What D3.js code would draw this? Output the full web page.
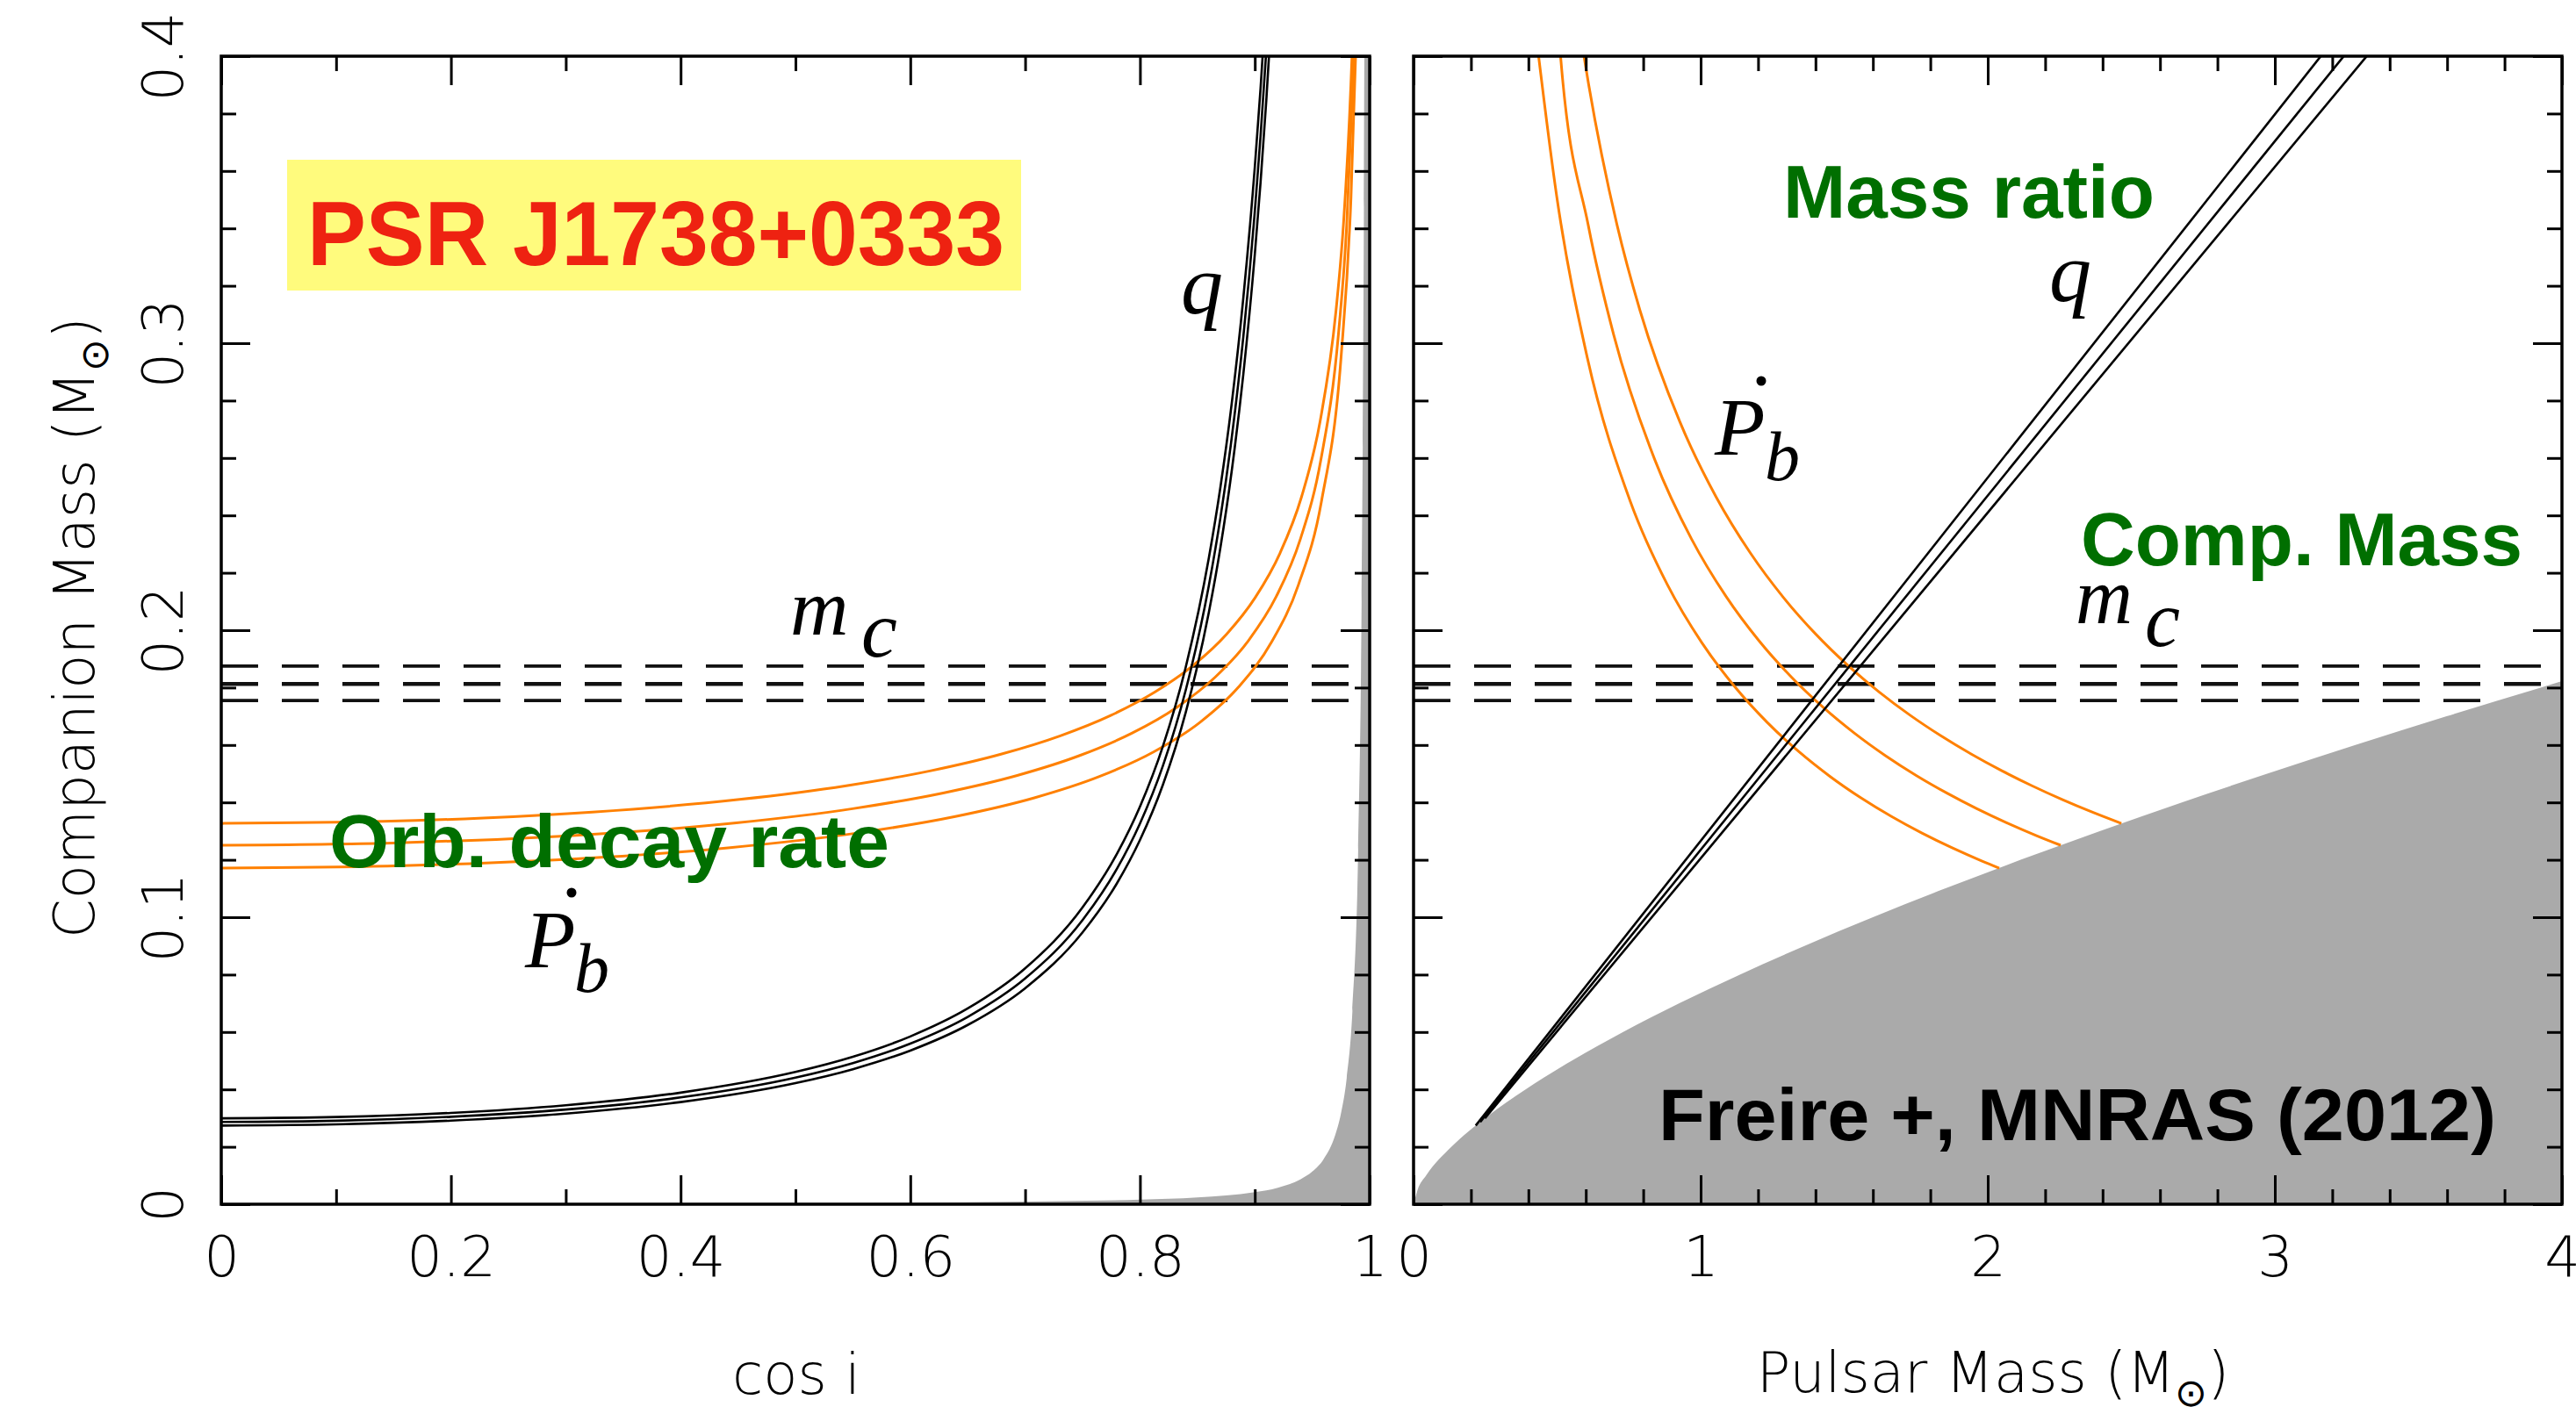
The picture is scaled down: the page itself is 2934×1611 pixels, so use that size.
<!DOCTYPE html>
<html><head><meta charset="utf-8">
<script src="https://cdn.jsdelivr.net/npm/d3@7"></script>
<style>html,body{margin:0;padding:0;background:#fff;} svg{display:block;background:#fff;}</style>
</head><body>
<svg id="chart" width="2934" height="1611"></svg>
<script>
// ---------------- DATA ----------------
// tick values / labels
const leftXTicks = [0, 0.2, 0.4, 0.6, 0.8, 1];
const leftXTickLabels = ["0", "0.2", "0.4", "0.6", "0.8", "1"];
const leftXMinor = [0.1, 0.3, 0.5, 0.7, 0.9];
const rightXTicks = [0, 1, 2, 3, 4];
const rightXTickLabels = ["0", "1", "2", "3", "4"];
const rightXMinor = [0.2, 0.4, 0.6, 0.8, 1.2, 1.4, 1.6, 1.8, 2.2, 2.4, 2.6, 2.8, 3.2, 3.4, 3.6, 3.8];
const yTicks = [0, 0.1, 0.2, 0.3, 0.4];
const yTickLabels = ["0", "0.1", "0.2", "0.3", "0.4"];
const yMinor = [0.02, 0.04, 0.06, 0.08, 0.12, 0.14, 0.16, 0.18, 0.22, 0.24, 0.26, 0.28, 0.32, 0.34, 0.36, 0.38];

// companion mass band (dashed)
const mcBand = [0.1875, 0.1813, 0.1755];

// LEFT panel: [cos i, m_c]
const leftQLow = [[0,0.02741],[0.1,0.02783],[0.2,0.02914],[0.3,0.03158],[0.4,0.03560],[0.5,0.04220],[0.55,0.04705],[0.6,0.05354],[0.65,0.06246],[0.7,0.07526],[0.75,0.09472],[0.78,0.11185],[0.8,0.12690],[0.82,0.14618],[0.84,0.17159],[0.86,0.20628],[0.87,0.22868],[0.88,0.25581],[0.89,0.28917],[0.9,0.33096],[0.905,0.35602],[0.91,0.38460],[0.915,0.41739]];
const leftQMid = [[0,0.02865],[0.1,0.02909],[0.2,0.03046],[0.3,0.03300],[0.4,0.03721],[0.5,0.04411],[0.55,0.04918],[0.6,0.05596],[0.65,0.06528],[0.7,0.07866],[0.75,0.09901],[0.78,0.11691],[0.8,0.13264],[0.82,0.15279],[0.84,0.17935],[0.86,0.21561],[0.87,0.23903],[0.88,0.26738],[0.89,0.30225],[0.9,0.34593],[0.905,0.37213],[0.91,0.40199],[0.913,0.4180]];
const leftQHigh = [[0,0.02993],[0.1,0.03038],[0.2,0.03182],[0.3,0.03448],[0.4,0.03888],[0.5,0.04608],[0.55,0.05138],[0.6,0.05846],[0.65,0.06820],[0.7,0.08218],[0.75,0.10343],[0.78,0.12213],[0.8,0.13856],[0.82,0.15962],[0.84,0.18737],[0.86,0.22524],[0.87,0.24971],[0.88,0.27933],[0.89,0.31575],[0.9,0.36139],[0.905,0.38875],[0.91,0.41995]];

const leftPbHigh = [[0,0.13268],[0.14085,0.13338],[0.22817,0.13458],[0.32311,0.13664],[0.45132,0.14102],[0.54420,0.14580],[0.61789,0.15103],[0.67895,0.15680],[0.73060,0.16321],[0.77492,0.17038],[0.81322,0.17850],[0.84644,0.18778],[0.87530,0.19858],[0.90032,0.21136],[0.92201,0.22690],[0.94070,0.24649],[0.95680,0.27265],[0.97074,0.31148],[0.97715,0.34117],[0.98368,0.39014],[0.98470,0.40090]];
const leftPbMid = [[0,0.12508],[0.14879,0.12584],[0.23952,0.12708],[0.30317,0.12836],[0.44847,0.13286],[0.54972,0.13781],[0.62867,0.14330],[0.69313,0.14940],[0.74707,0.15627],[0.79289,0.16409],[0.83200,0.17310],[0.86549,0.18364],[0.89420,0.19624],[0.91876,0.21179],[0.93969,0.23176],[0.95749,0.25930],[0.97278,0.30295],[0.97997,0.34070],[0.98627,0.39974],[0.98680,0.4050]];
const leftPbLow = [[0,0.11711],[0.14467,0.11782],[0.21710,0.11868],[0.26972,0.11955],[0.44120,0.12418],[0.55366,0.12932],[0.63921,0.13508],[0.70802,0.14159],[0.76472,0.14903],[0.81213,0.15766],[0.85212,0.16786],[0.88580,0.18019],[0.91421,0.19561],[0.93804,0.21586],[0.95800,0.24481],[0.97510,0.29508],[0.98375,0.35086],[0.98798,0.40259]];

const leftExcluded = [[0,0.000346],[0.5,0.000533],[0.7,0.00095],[0.8,0.0016],[0.85,0.002367],[0.9,0.004178],[0.92,0.005748],[0.94,0.008713],[0.95,0.011366],[0.96,0.015762],[0.97,0.024083],[0.975,0.031537],[0.98,0.043909],[0.985,0.067346],[0.99,0.12325],[0.993,0.20998],[0.995,0.34735],[0.9955,0.4066],[1,0.45]];

// RIGHT panel: [pulsar mass, m_c]
const rightQLow = [[0.21652,0.02741],[3.3,0.41772]];
const rightQMid = [[0.23207,0.02865],[3.35,0.41358]];
const rightQHigh = [[0.24838,0.02993],[3.4,0.40964]];

const rightPbHigh = [[0.59210,0.40090],[0.60986,0.39014],[0.70883,0.34117],[0.78852,0.31148],[0.92735,0.27265],[1.05351,0.24649],[1.17310,0.22690],[1.28864,0.21136],[1.40142,0.19858],[1.51222,0.18778],[1.62150,0.17850],[1.72962,0.17038],[1.83679,0.16321],[1.94320,0.15680],[2.04897,0.15103],[2.15420,0.14580],[2.25898,0.14102],[2.36336,0.13664],[2.46532,0.13268]];
const rightPbMid = [[0.5080,0.4050],[0.51226,0.39974],[0.60930,0.34070],[0.69705,0.30295],[0.84070,0.25930],[0.96824,0.23176],[1.08821,0.21179],[1.20376,0.19624],[1.31636,0.18364],[1.42690,0.17310],[1.53591,0.16409],[1.64373,0.15627],[1.75060,0.14940],[1.85670,0.14330],[1.96219,0.13781],[2.06714,0.13286],[2.17164,0.12836],[2.25392,0.12508]];
const rightPbLow = [[0.43241,0.40259],[0.49914,0.35086],[0.60492,0.29508],[0.75519,0.24481],[0.88414,0.21586],[1.00439,0.19561],[1.11981,0.18019],[1.23214,0.16786],[1.34234,0.15766],[1.45097,0.14903],[1.55841,0.14159],[1.66492,0.13508],[1.77068,0.12932],[1.87582,0.12418],[1.98045,0.11955],[2.03989,0.11711]];

const rightExcluded = [[0,0],[0.014007,0.005],[0.04376,0.01],[0.13206,0.02],[0.24935,0.03],[0.39008,0.04],[0.55106,0.05],[0.73012,0.06],[0.92566,0.07],[1.13646,0.08],[1.36153,0.09],[1.60005,0.10],[1.85133,0.11],[2.11477,0.12],[2.38986,0.13],[2.67614,0.14],[2.97320,0.15],[3.28066,0.16],[3.59821,0.17],[3.92554,0.18],[4.02561,0.183]];

// ---------------- LAYOUT ----------------
const TOP = 64, S = 1308;
const ORANGE = "#ff8000", GREEN = "#006f00", GRAY = "#aaaaaa";
const AXFONT = "'DejaVu Sans', 'Liberation Sans', sans-serif";
const BOLD = "'Liberation Sans', Arial, sans-serif";
const SERIF = "'Liberation Serif', 'DejaVu Serif', serif";

const svg = d3.select("#chart");
const defs = svg.append("defs");

function makePanel(id, x0, xDomain) {
  const g = svg.append("g").attr("transform", `translate(${x0},${TOP})`);
  const x = d3.scaleLinear().domain(xDomain).range([0, S]);
  const y = d3.scaleLinear().domain([0, 0.4]).range([S, 0]);
  defs.append("clipPath").attr("id", id).append("rect").attr("x", 0).attr("y", 0).attr("width", S).attr("height", S);
  const plot = g.append("g").attr("clip-path", `url(#${id})`);
  return {g, plot, x, y, xDomain};
}

function drawContent(p, excluded, qLines, pbLines) {
  const {plot, x, y, xDomain} = p;
  // dashed companion-mass band
  plot.selectAll("line.mc").data(mcBand).join("line").attr("class", "mc")
    .attr("x1", x(xDomain[0])).attr("x2", x(xDomain[1]))
    .attr("y1", d => y(d)).attr("y2", d => y(d))
    .attr("stroke", "#111").attr("stroke-width", (d, i) => i === 1 ? 4.5 : 3.8)
    .attr("stroke-dasharray", "42,27");
  // excluded region
  const area = d3.area().x(d => x(d[0])).y0(y(0)).y1(d => y(d[1])).curve(d3.curveMonotoneX);
  plot.append("path").datum(excluded).attr("d", area).attr("fill", GRAY).attr("stroke", "none");
  const line = d3.line().x(d => x(d[0])).y(d => y(d[1])).curve(d3.curveMonotoneX);
  plot.selectAll("path.pb").data(pbLines).join("path").attr("class", "pb")
    .attr("d", line).attr("fill", "none").attr("stroke", ORANGE).attr("stroke-width", 3);
  plot.selectAll("path.q").data(qLines).join("path").attr("class", "q")
    .attr("d", line).attr("fill", "none").attr("stroke", "#000").attr("stroke-width", 2.6);
}

function styleAxis(sel, withText) {
  sel.select(".domain").remove();
  sel.selectAll("line").attr("stroke", "#000").attr("stroke-width", 3);
  if (withText) {
    sel.selectAll("text").attr("font-family", AXFONT).attr("font-size", 64)
      .attr("font-weight", 200).attr("fill", "#000");
  } else {
    sel.selectAll("text").remove();
  }
}

function drawAxes(p, xMajor, xLabels, xMinor, yLabelsOn) {
  const {g, x, y} = p;
  const MAJ = 33, MIN = 17;
  // bottom
  g.append("g").attr("transform", `translate(0,${S})`)
    .call(d3.axisBottom(x).tickValues(xMinor).tickSize(-MIN).tickFormat(""))
    .call(s => styleAxis(s, false));
  g.append("g").attr("transform", `translate(0,${S})`)
    .call(d3.axisBottom(x).tickValues(xMajor).tickSize(-MAJ).tickPadding(37)
      .tickFormat(d => xLabels[xMajor.indexOf(d)]))
    .call(s => styleAxis(s, true));
  // top
  g.append("g").call(d3.axisTop(x).tickValues(xMinor).tickSize(-MIN).tickFormat("")).call(s => styleAxis(s, false));
  g.append("g").call(d3.axisTop(x).tickValues(xMajor).tickSize(-MAJ).tickFormat("")).call(s => styleAxis(s, false));
  // left
  g.append("g").call(d3.axisLeft(y).tickValues(yMinor).tickSize(-MIN).tickFormat("")).call(s => styleAxis(s, false));
  const left = g.append("g").call(d3.axisLeft(y).tickValues(yTicks).tickSize(-MAJ)
      .tickFormat(d => yTickLabels[yTicks.indexOf(d)]))
    .call(s => styleAxis(s, yLabelsOn));
  if (yLabelsOn) {
    left.selectAll("text").attr("x", 0).attr("y", 0).attr("dy", null)
      .attr("text-anchor", "middle").attr("transform", "translate(-44,0) rotate(-90)");
  }
  // right
  g.append("g").attr("transform", `translate(${S},0)`)
    .call(d3.axisRight(y).tickValues(yMinor).tickSize(-MIN).tickFormat("")).call(s => styleAxis(s, false));
  g.append("g").attr("transform", `translate(${S},0)`)
    .call(d3.axisRight(y).tickValues(yTicks).tickSize(-MAJ).tickFormat("")).call(s => styleAxis(s, false));
  // frame
  g.append("rect").attr("x", 0).attr("y", 0).attr("width", S).attr("height", S)
    .attr("fill", "none").attr("stroke", "#000").attr("stroke-width", 3.5);
}

// ---------------- PANELS ----------------
const L = makePanel("clipL", 252, [0, 1]);
const R = makePanel("clipR", 1610, [0, 4]);

drawContent(L, leftExcluded, [leftQLow, leftQMid, leftQHigh], [leftPbHigh, leftPbMid, leftPbLow]);
drawContent(R, rightExcluded, [rightQLow, rightQMid, rightQHigh], [rightPbHigh, rightPbMid, rightPbLow]);

// ---------------- ANNOTATIONS ----------------
function boldText(txt, x, y, size, fill, len) {
  svg.append("text").attr("x", x).attr("y", y).attr("font-family", BOLD).attr("font-weight", 700)
    .attr("font-size", size).attr("fill", fill).attr("textLength", len)
    .attr("lengthAdjust", "spacingAndGlyphs").text(txt);
}
function italic(txt, x, y, size) {
  svg.append("text").attr("x", x).attr("y", y).attr("font-family", SERIF).attr("font-style", "italic")
    .attr("font-size", size).attr("fill", "#000").text(txt);
}

svg.append("rect").attr("x", 327).attr("y", 182).attr("width", 836).attr("height", 149).attr("fill", "#fffb7d");
boldText("PSR J1738+0333", 350, 302, 104, "#ee2211", 794);
boldText("Orb. decay rate", 375, 988, 86, GREEN, 638);
boldText("Mass ratio", 2031, 248, 85, GREEN, 423);
boldText("Comp. Mass", 2370, 644, 86, GREEN, 503);
boldText("Freire +, MNRAS (2012)", 1889, 1299, 83, "#000", 954);

// q labels
italic("q", 1345, 357, 96);
italic("q", 2334, 343, 96);
// m_c labels
italic("m", 900, 723, 92);
italic("c", 981, 748, 92);
italic("m", 2364, 710, 90);
italic("c", 2443, 736, 90);
// Pb-dot labels
italic("P", 598, 1102, 94);
italic("b", 654, 1130, 80);
svg.append("circle").attr("cx", 651).attr("cy", 1017).attr("r", 5.5).attr("fill", "#000");
italic("P", 1953, 518, 94);
italic("b", 2010, 547, 80);
svg.append("circle").attr("cx", 2006).attr("cy", 434).attr("r", 5.5).attr("fill", "#000");

// axes on top
drawAxes(L, leftXTicks, leftXTickLabels, leftXMinor, true);
drawAxes(R, rightXTicks, rightXTickLabels, rightXMinor, false);

// axis titles
function axisTitle(parts, x, y, rotate) {
  const t = svg.append("text").attr("font-family", AXFONT).attr("font-weight", 200)
    .attr("font-size", 64).attr("fill", "#000").attr("text-anchor", "middle");
  if (rotate) t.attr("transform", `translate(${x},${y}) rotate(-90)`);
  else t.attr("x", x).attr("y", y);
  t.append("tspan").text(parts[0]);
  if (parts.length > 1) {
    t.append("tspan").attr("font-size", 44).attr("dy", 16).text("\u2299");
    t.append("tspan").attr("dy", -16).text(")");
  }
}
axisTitle(["Companion Mass (M", true], 107, 715, true);
axisTitle(["cos i"], 907, 1588, false);
axisTitle(["Pulsar Mass (M", true], 2270, 1586, false);
</script>
</body></html>
